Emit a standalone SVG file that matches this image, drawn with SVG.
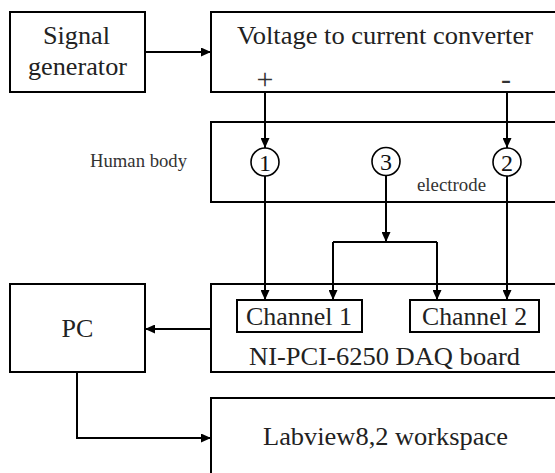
<svg xmlns="http://www.w3.org/2000/svg" width="555" height="473" viewBox="0 0 555 473" font-family="Liberation Serif, serif">
<defs>
<marker id="ah" markerWidth="10" markerHeight="9" refX="10" refY="4.5" orient="auto" markerUnits="userSpaceOnUse">
<path d="M0,0 L10,4.5 L0,9 z" fill="#000"/>
</marker>
<style>
.box{fill:#fff;stroke:#000;stroke-width:2}
.cbox{fill:none;stroke:#000;stroke-width:2}
.t{font-family:'Liberation Serif',serif;font-size:26px;fill:#222}
.s{font-family:'Liberation Serif',serif;font-size:19px;fill:#333}
.pm{font-family:'Liberation Serif',serif;font-size:30px;fill:#333;text-anchor:middle}
.c{fill:#fff;stroke:#000;stroke-width:1.6}
.n{font-family:'Liberation Serif',serif;font-size:24px;fill:#111;text-anchor:middle}
.w{fill:none;stroke:#000;stroke-width:2}
</style>
</defs>
<rect width="555" height="473" fill="#fff"/>
<g id="signal-generator">
<rect class="box" x="10" y="12" width="135" height="80"/>
<text class="t" x="43" y="44" textLength="67" lengthAdjust="spacingAndGlyphs">Signal</text>
<text class="t" x="28" y="75" textLength="99" lengthAdjust="spacingAndGlyphs">generator</text>
</g>
<g id="converter">
<rect class="box" x="211" y="12" width="360" height="80"/>
<text class="t" x="237" y="44" textLength="296" lengthAdjust="spacingAndGlyphs">Voltage to current converter</text>
<text class="pm" x="265" y="89">+</text>
<text class="pm" x="506" y="89">-</text>
</g>
<g id="human-body">
<rect class="box" x="211" y="122" width="360" height="80"/>
<text class="s" x="90" y="167" textLength="97" lengthAdjust="spacingAndGlyphs">Human body</text>
<text class="s" x="417" y="191" textLength="69" lengthAdjust="spacingAndGlyphs">electrode</text>
</g>
<g id="daq-board">
<rect class="box" x="211" y="284" width="360" height="88"/>
<text class="t" x="249" y="365" textLength="271" lengthAdjust="spacingAndGlyphs">NI-PCI-6250 DAQ board</text>
</g>
<g id="channel-1">
<rect class="cbox" x="237" y="300" width="125" height="32"/>
<text class="t" x="246" y="325" textLength="106" lengthAdjust="spacingAndGlyphs">Channel 1</text>
</g>
<g id="channel-2">
<rect class="cbox" x="410" y="300" width="129" height="32"/>
<text class="t" x="422" y="325" textLength="105" lengthAdjust="spacingAndGlyphs">Channel 2</text>
</g>
<g id="pc">
<rect class="box" x="10" y="284" width="135" height="88"/>
<text class="t" x="77.5" y="337" text-anchor="middle">PC</text>
</g>
<g id="labview">
<rect class="box" x="211" y="398" width="360" height="90"/>
<text class="t" x="263" y="445" textLength="245" lengthAdjust="spacingAndGlyphs">Labview8,2 workspace</text>
</g>
<g id="connectors">
<line class="w" x1="145" y1="52" x2="211" y2="52" marker-end="url(#ah)"/>
<line class="w" x1="265" y1="92" x2="265" y2="148" marker-end="url(#ah)"/>
<line class="w" x1="265" y1="176" x2="265" y2="300" marker-end="url(#ah)"/>
<line class="w" x1="507" y1="92" x2="507" y2="148" marker-end="url(#ah)"/>
<line class="w" x1="507" y1="176" x2="507" y2="300" marker-end="url(#ah)"/>
<line class="w" x1="386" y1="175" x2="386" y2="242" marker-end="url(#ah)"/>
<polyline class="w" points="333,242 437,242"/>
<line class="w" x1="333" y1="242" x2="333" y2="300" marker-end="url(#ah)"/>
<line class="w" x1="437" y1="242" x2="437" y2="300" marker-end="url(#ah)"/>
<line class="w" x1="211" y1="329" x2="145" y2="329" marker-end="url(#ah)"/>
<polyline class="w" points="77,372 77,438 211,438" marker-end="url(#ah)"/>
</g>
<g id="electrode-1">
<circle class="c" cx="265" cy="162" r="14"/>
<text class="n" x="265" y="170.5">1</text>
</g>
<g id="electrode-3">
<circle class="c" cx="386" cy="161.5" r="14"/>
<text class="n" x="386" y="170">3</text>
</g>
<g id="electrode-2">
<circle class="c" cx="507" cy="162" r="14"/>
<text class="n" x="507" y="170.5">2</text>
</g>
</svg>
